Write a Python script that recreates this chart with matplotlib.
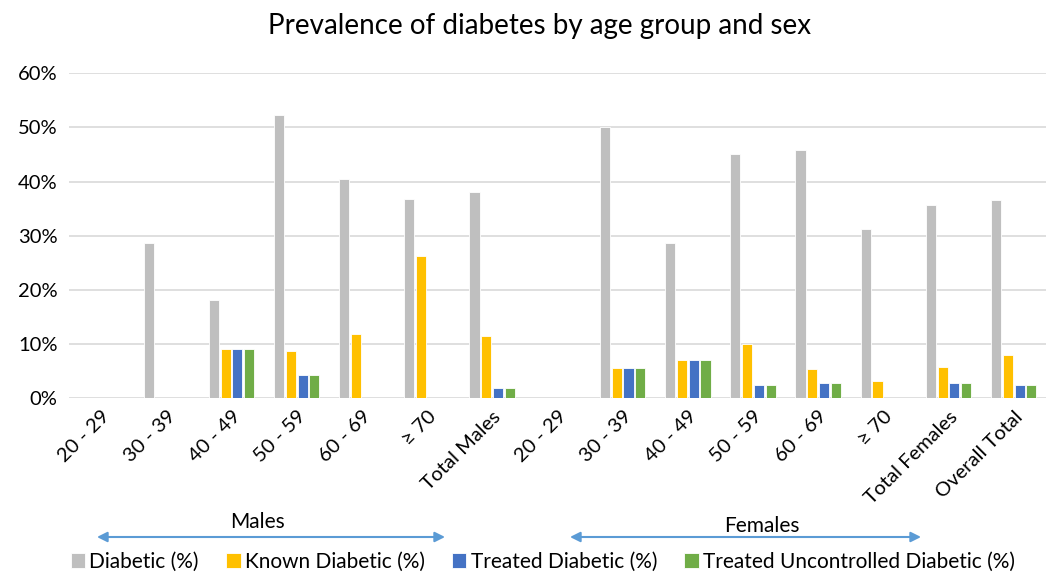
import numpy as np
import matplotlib
matplotlib.use("Agg")
import matplotlib.pyplot as plt
from matplotlib.ticker import PercentFormatter

plt.rcParams['font.family'] = ['Lato', 'DejaVu Sans']

categories = ['20 - 29', '30 - 39', '40 - 49', '50 - 59', '60 - 69', '\u2265 70', 'Total Males',
              '20 - 29', '30 - 39', '40 - 49', '50 - 59', '60 - 69', '\u2265 70', 'Total Females',
              'Overall Total']

diabetic = [0, 28.6, 18.2, 52.2, 40.5, 36.8, 38.0,
            0, 50.0, 28.6, 45.0, 45.9, 31.3, 35.6, 36.6]
known = [0, 0, 9.1, 8.7, 11.9, 26.3, 11.4,
         0, 5.6, 7.1, 10.0, 5.4, 3.1, 5.7, 7.9]
treated = [0, 0, 9.1, 4.3, 0, 0, 1.8,
           0, 5.6, 7.1, 2.5, 2.7, 0, 2.8, 2.4]
treated_uncontrolled = [0, 0, 9.1, 4.3, 0, 0, 1.8,
                        0, 5.6, 7.1, 2.5, 2.7, 0, 2.8, 2.4]

series = [
    ('Diabetic (%)', diabetic, '#BFBFBF'),
    ('Known Diabetic (%)', known, '#FFC000'),
    ('Treated Diabetic (%)', treated, '#4472C4'),
    ('Treated Uncontrolled Diabetic (%)', treated_uncontrolled, '#70AD47'),
]

fig = plt.figure(figsize=(10.48, 5.72), dpi=100)
ax = fig.add_axes([0.0654, 0.304, 0.933, 0.568])

x = np.arange(len(categories))
step = 0.181
width = 0.155
for i, (name, vals, color) in enumerate(series):
    ax.bar(x + (i - 1.5) * step, vals, width=width, color=color,
           edgecolor='white', linewidth=0.6, label=name, zorder=3)

ax.set_xlim(-0.5, len(categories) - 0.5)
ax.set_ylim(0, 60)
ax.set_yticks(np.arange(0, 61, 10))
ax.yaxis.set_major_formatter(PercentFormatter(xmax=100, decimals=0))
ax.grid(axis='y', color='#D9D9D9', linewidth=1.2, zorder=0)
for s in ax.spines.values():
    s.set_visible(False)
ax.tick_params(axis='both', length=0, labelsize=14.5, colors='#000000')
ax.tick_params(axis='y', pad=8)
ax.set_xticks(x)
ax.set_xticklabels(categories, rotation=45, ha='right', va='top',
                   rotation_mode='anchor', fontsize=14.5)
ax.tick_params(axis='x', pad=7)

fig.text(0.515, 0.955, 'Prevalence of diabetes by age group and sex',
         ha='center', va='center', fontsize=20)

# group arrows under the axis labels
arrow_kw = dict(arrowstyle='<|-|>', color='#5B9BD5', lw=1.5,
                mutation_scale=15, shrinkA=0, shrinkB=0)
ax_y = 572 - 537
fig.add_artist(matplotlib.patches.FancyArrowPatch(
    (97, ax_y), (445, ax_y), transform=None, **arrow_kw))
fig.add_artist(matplotlib.patches.FancyArrowPatch(
    (570, ax_y), (921, ax_y), transform=None, **arrow_kw))
fig.text(257 / 1048, 1 - 522 / 572, 'Males', ha='center', va='center', fontsize=15)
fig.text(762 / 1048, 1 - 526 / 572, 'Females', ha='center', va='center', fontsize=15)

fig.legend(loc='center', bbox_to_anchor=(0.518, 1 - 562 / 572), ncol=4,
           frameon=False, fontsize=15, handlelength=0.7, handleheight=0.7,
           handletextpad=0.2, columnspacing=1.3, borderaxespad=0)

fig.savefig('out.png', dpi=100)
